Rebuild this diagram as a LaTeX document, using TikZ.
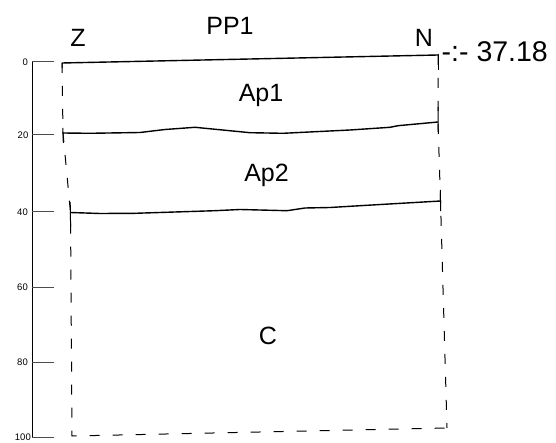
\documentclass[tikz,border=0pt]{standalone}
\usepackage{fontspec}
\setmainfont{Liberation Sans}
\begin{document}
\begin{tikzpicture}[x=1pt,y=-1pt,
  bound/.style={line width=1.4pt,line join=round},
  edge/.style={line width=1pt,dash pattern=on 10pt off 13pt},
  axisline/.style={line width=1pt},
  tickline/.style={line width=1pt,black!70},
  ticklabel/.style={font=\fontsize{9.5}{10}\selectfont,anchor=east,inner sep=0pt},
  biglabel/.style={font=\fontsize{25}{28}\selectfont,inner sep=0pt,anchor=base},
]
\useasboundingbox (0,0) rectangle (556,443);
% depth scale
\coordinate (a0) at (32,62);
\coordinate (a100) at (32,437);
\draw[axisline] (a0) -- (a100);
\foreach \v/\y in {0/62,20/135,40/212,60/287,80/362,100/437}{
  \draw[tickline] (32,\y) -- (54,\y);
}
\node[ticklabel] (l0) at (28,62) {0};
\node[ticklabel] (l20) at (28.5,135) {20};
\node[ticklabel] (l40) at (28,212) {40};
\node[ticklabel] (l60) at (28,287) {60};
\node[ticklabel] (l80) at (28,362) {80};
\node[ticklabel] (l100) at (31,437) {100};
% profile corners
\coordinate (tl) at (62,63);
\coordinate (tr) at (438,55);
\coordinate (m1l) at (63,133);
\coordinate (m1r) at (438,122);
\coordinate (m2l) at (70.5,212.5);
\coordinate (m2r) at (440.5,201);
\coordinate (bl) at (72,436);
\coordinate (br) at (447,428);
% dashed sides
\draw[edge] (tl) -- (m1l) -- (m2l) -- (bl) -- (br);
\draw[edge] (tr) -- (m1r) -- (m2r) -- (br);
% short solid ticks at boundary ends
\draw[line width=1pt] (62,63) -- (62.3,68);
\draw[line width=1pt] (62.8,128) -- (63.3,143);
\draw[line width=1pt] (70.2,202) -- (70.6,227);
\draw[line width=1pt] (438,54) -- (438,70);
\draw[line width=1pt] (438,107) -- (438.2,132);
\draw[line width=1pt] (440.3,190) -- (440.7,211);
% horizon boundaries
\draw[bound] (tl) -- (tr);
\draw[bound] (m1l) -- (90,133.3) -- (140,132.5) -- (165,129.5) -- (195,127.3) -- (250,132.7) -- (283,133.3) -- (350,130) -- (390,127.3) -- (398,125.7) -- (m1r);
\draw[bound] (m2l) -- (100,213.5) -- (135,213.3) -- (215,210.7) -- (240,209.5) -- (287,210.7) -- (305,208) -- (330,207.5) -- (360,205.7) -- (m2r);
% labels
\node[biglabel] (z) at (78,47) {Z};
\node[biglabel] (pp1) at (230,35) {PP1};
\node[biglabel] (n) at (424,46.7) {N};
\node[font=\fontsize{28.5}{31}\selectfont,inner sep=0pt,anchor=base west] (elev) at (441.5,61.7) {-:- 37.18};
\node[biglabel] (ap1) at (261,102) {Ap1};
\node[biglabel] (ap2) at (266.5,181.7) {Ap2};
\node[biglabel] (c) at (268,344) {C};
\end{tikzpicture}
\end{document}
